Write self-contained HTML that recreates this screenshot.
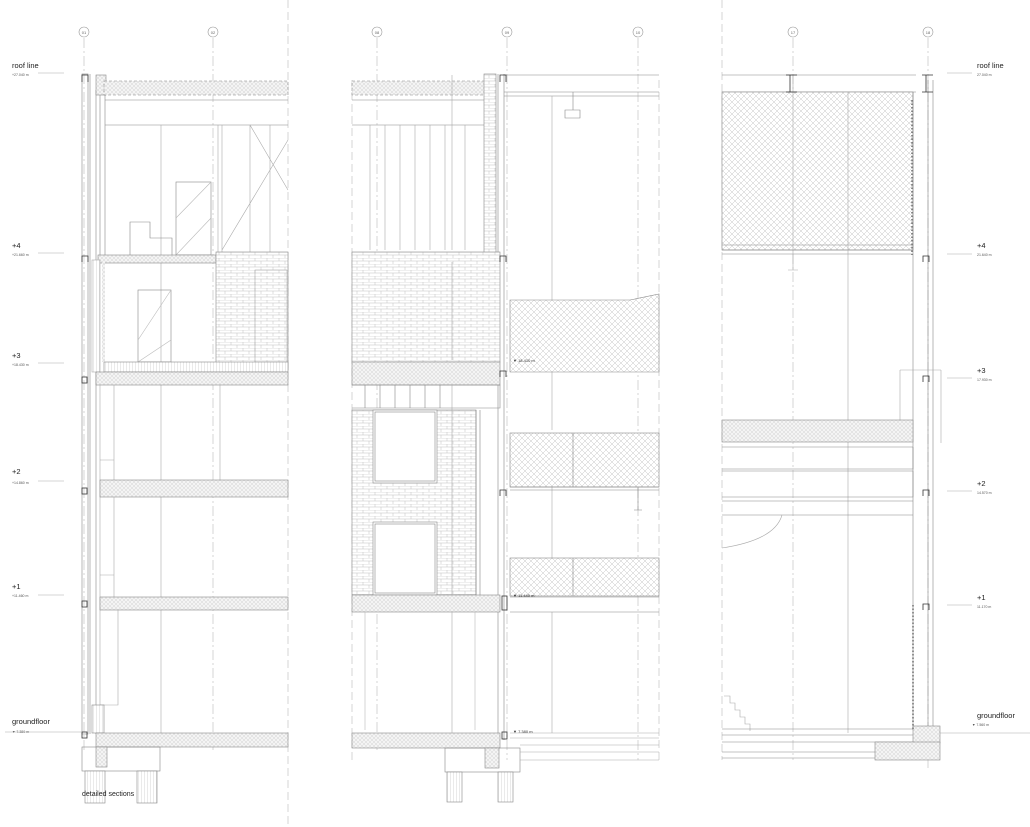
<!DOCTYPE html>
<html><head><meta charset="utf-8"><style>
html,body{margin:0;padding:0;background:#fff;}
svg{display:block;font-family:"Liberation Sans",sans-serif;}
</style></head><body>
<svg width="1030" height="827" viewBox="0 0 1030 827" xmlns="http://www.w3.org/2000/svg">
<defs>
<pattern id="brick" width="12" height="6" patternUnits="userSpaceOnUse">
<rect width="12" height="6" fill="#fff"/>
<path d="M0 0H12M0 3H12M3 0V3M9 3V6" stroke="#c0c0c0" stroke-width="0.5"/>
</pattern>
<pattern id="diam" width="6" height="6" patternUnits="userSpaceOnUse">
<rect width="6" height="6" fill="#fff"/>
<path d="M0 0L6 6M6 0L0 6" stroke="#c4c4c4" stroke-width="0.5"/>
</pattern>
<pattern id="slab" width="4" height="4" patternUnits="userSpaceOnUse">
<rect width="4" height="4" fill="#f4f4f4"/>
<path d="M0 0L4 4M4 0L0 4" stroke="#cdcdcd" stroke-width="0.4"/>
</pattern>
<pattern id="vlines" width="3" height="4" patternUnits="userSpaceOnUse">
<rect width="3" height="4" fill="#fff"/><path d="M0 0V4" stroke="#aaa" stroke-width="0.5"/>
</pattern>
</defs>
<g fill="none" stroke="#999" stroke-width="0.6">
<g stroke-dasharray="8 4" stroke="#bbb">
<path d="M288 0V827M352 80V760M659 80V760M722 0V760"/>
<path d="M84 38V750M213 38V750M377 38V750M507 38V760M638 38V760M793 38V760M928 38V770" stroke-dasharray="10 3 2 3"/>
</g>
</g>
<g fill="#fff" stroke="#999" stroke-width="0.6">
<circle cx="84" cy="32" r="5"/><circle cx="213" cy="32" r="5"/><circle cx="377" cy="32" r="5"/><circle cx="507" cy="32" r="5"/><circle cx="638" cy="32" r="5"/><circle cx="793" cy="32" r="5"/><circle cx="928" cy="32" r="5"/>
</g>
<g font-size="4" fill="#666" text-anchor="middle">
<text x="84" y="34">01</text><text x="213" y="34">02</text><text x="377" y="34">08</text><text x="507" y="34">09</text><text x="638" y="34">10</text><text x="793" y="34">17</text><text x="928" y="34">18</text>
</g>

<!-- PANEL 1 -->
<g stroke="#888" stroke-width="0.6" fill="none">
<rect x="82" y="74" width="6" height="660"/>
<path d="M90 74V734M96 90V734M100 90V260"/>
<rect x="96" y="75" width="10" height="20" fill="url(#slab)"/>
<rect x="104" y="81" width="184" height="14" fill="url(#slab)" stroke-dasharray="3 2"/>
<path d="M105 100H288M105 125H288M105 95V255"/>
<path d="M161 125V255M161 262V370M161 385V485M161 497V597M161 610V733" stroke="#aaa"/>
<rect x="176" y="182" width="35" height="73"/><path d="M176 218L211 182M176 255L211 218" stroke="#bbb"/>
<path d="M130 255V222H150V238H172V255"/>
<path d="M218 125V255M222 125V255M250 125V255M270 125V255M222 250L288 140M250 125L288 190" stroke="#aaa"/>
<rect x="98" y="255" width="118" height="8" fill="url(#slab)"/>
<rect x="216" y="252" width="72" height="118" fill="url(#brick)"/>
<rect x="255" y="270" width="32" height="92" fill="url(#brick)" stroke="#aaa"/>
<rect x="92" y="260" width="8" height="112" fill="url(#vlines)" stroke="#aaa"/>
<rect x="102" y="262" width="3" height="100" fill="url(#slab)" stroke="none"/>
<rect x="138" y="290" width="33" height="72"/><path d="M138 340L171 290M138 362L171 340" stroke="#bbb"/>
<rect x="104" y="362" width="184" height="10" fill="url(#vlines)"/>
<rect x="96" y="372" width="192" height="13" fill="url(#slab)"/>
<path d="M100 385V733M114 385V485M220 385V485M100 460H114V485" stroke="#aaa"/>
<rect x="100" y="480" width="188" height="17" fill="url(#slab)"/>
<path d="M114 497V597M100 575H114V597" stroke="#aaa"/>
<rect x="100" y="597" width="188" height="13" fill="url(#slab)"/>
<path d="M118 610V705H100M100 705H118" stroke="#aaa"/>
<rect x="92" y="705" width="12" height="28" fill="url(#vlines)"/>
<rect x="96" y="733" width="192" height="14" fill="url(#slab)"/>
<rect x="82" y="747" width="78" height="24"/>
<rect x="96" y="747" width="11" height="20" fill="url(#slab)"/>
<rect x="85" y="771" width="20" height="32" fill="url(#vlines)"/>
<rect x="137" y="771" width="20" height="32" fill="url(#vlines)"/>
</g>
<g stroke="#333" stroke-width="0.8" fill="none">
<path d="M82 82V75H88V82M82 262V256H88V262"/>
<rect x="82" y="377" width="5" height="6"/><rect x="82" y="488" width="5" height="6"/><rect x="82" y="601" width="5" height="6"/><rect x="82" y="732" width="5" height="6"/>
</g>
<g fill="#222">
<text x="12" y="68" font-size="7.5">roof line</text><text x="12" y="76" font-size="3.5" fill="#555">+27.040 m</text>
<text x="12" y="248" font-size="7.5">+4</text><text x="12" y="256" font-size="3.5" fill="#555">+21.660 m</text>
<text x="12" y="358" font-size="7.5">+3</text><text x="12" y="366" font-size="3.5" fill="#555">+18.430 m</text>
<text x="12" y="474" font-size="7.5">+2</text><text x="12" y="484" font-size="3.5" fill="#555">+14.860 m</text>
<text x="12" y="589" font-size="7.5">+1</text><text x="12" y="597" font-size="3.5" fill="#555">+11.460 m</text>
<text x="12" y="724" font-size="7.5">groundfloor</text><text x="12" y="733" font-size="3.5" fill="#555">▼ 7.380 m</text>
<text x="82" y="796" font-size="7">detailed sections</text>
</g>
<g stroke="#aaa" stroke-width="0.5"><path d="M38 73H64M38 253H64M38 363H64M38 481H64M38 595H64M5 732H82"/></g>

<!-- PANEL 2 -->
<g stroke="#888" stroke-width="0.6" fill="none">
<rect x="352" y="81" width="136" height="14" fill="url(#slab)" stroke-dasharray="3 2"/>
<path d="M352 100H488M352 125H488"/>
<path d="M370 125V250M385 125V250M400 125V250M415 125V250M430 125V250M445 125V250M465 125V250" stroke="#aaa"/>
<rect x="484" y="74" width="12" height="180" fill="url(#brick)"/>
<path d="M498 74V740M504 74V740"/>
<rect x="352" y="252" width="148" height="110" fill="url(#brick)"/>
<rect x="352" y="362" width="148" height="23" fill="url(#slab)"/>
<path d="M352 385H500V408H352M365 385V408M380 385V408M395 385V408M410 385V408M425 385V408M440 385V408"/>
<rect x="352" y="410" width="124" height="185" fill="url(#brick)"/>
<rect x="373" y="410" width="64" height="73" fill="#fff"/><rect x="375" y="412" width="60" height="69"/>
<rect x="373" y="522" width="64" height="73" fill="#fff"/><rect x="375" y="524" width="60" height="69"/>
<path d="M476 410V595M480 410V595"/>
<rect x="352" y="595" width="148" height="17" fill="url(#slab)"/>
<path d="M365 612V730M475 612V730" stroke="#bbb"/>
<rect x="352" y="733" width="148" height="15" fill="url(#slab)"/>
<rect x="445" y="748" width="75" height="24"/>
<rect x="485" y="748" width="14" height="20" fill="url(#slab)"/>
<rect x="447" y="772" width="15" height="30" fill="url(#vlines)"/>
<rect x="498" y="772" width="15" height="30" fill="url(#vlines)"/>
<path d="M504 75H659M504 92H659M504 96H659"/>
<path d="M573 92V110M565 110H580V118H565Z"/>
<path d="M452 75V125M452 125V250M452 262V360M452 385V595M452 612V733" stroke="#aaa"/>
<path d="M552 96V360M552 370V430M552 487V558M552 612V733" stroke="#aaa"/>
<path d="M510 300H630L659 294V372H510Z" fill="url(#diam)"/>
<rect x="510" y="433" width="149" height="54" fill="url(#diam)"/>
<path d="M510 487H659M510 490H659M573 433V487"/>
<rect x="510" y="558" width="149" height="38" fill="url(#diam)"/>
<path d="M510 597H659M510 612H659M573 558V596M638 487V510M634 510H642"/>
<path d="M510 733H659M510 738H659M520 745H659M520 752H659M520 760H659" stroke="#aaa"/>
</g>
<g stroke="#333" stroke-width="0.8" fill="none">
<path d="M500 82V75H506V82M500 262V256H506V262M500 377V371H506V377M500 496V490H506V496"/>
<rect x="502" y="596" width="5" height="14"/><rect x="502" y="732" width="5" height="7"/>
</g>
<g font-size="4" fill="#333">
<text x="513" y="362">▼ 18.410 m</text><text x="513" y="597">▼ 11.440 m</text><text x="513" y="733">▼ 7.380 m</text>
</g>

<!-- PANEL 3 -->
<g stroke="#888" stroke-width="0.6" fill="none">
<path d="M722 75H916M722 92H916"/>
<rect x="722" y="92" width="191" height="158" fill="url(#diam)"/>
<path d="M722 245H913M722 250H913M722 254H913"/>
<path d="M913 92V730M928 80V730M933 80V730"/>
<path d="M793 75V270M788 270H798M848 92V733" stroke="#aaa"/>
<path d="M900 370V420M900 370H941M941 370V443" stroke="#aaa"/>
<rect x="722" y="420" width="191" height="22" fill="url(#slab)"/>
<path d="M722 447H913M722 469H913V447M722 471H913M722 497H913V471M722 501H913M722 515H913"/>
<path d="M722 548Q775 540 782 515" stroke="#aaa"/>
<path d="M724 696H730V703H735V710H740V717H745V724H750V731" stroke="#aaa"/>
<path d="M722 729H913M722 735H913M722 742H913M722 752H875M722 758H875"/>
<rect x="913" y="726" width="27" height="17" fill="url(#slab)"/>
<rect x="875" y="742" width="65" height="18" fill="url(#slab)"/>
<path d="M940 733H1030" stroke="#aaa"/>
<path d="M912 100V255M913 605V730" stroke="#777" stroke-dasharray="1.5 2" stroke-width="1.6"/>
</g>
<g stroke="#333" stroke-width="0.8" fill="none">
<path d="M790 75V92M786 75H797M786 92H797M926 75V92M922 75H933M922 92H933"/>
<path d="M923 262V256H929V262M923 382V376H929V382M923 496V490H929V496M923 610V604H929V610"/>
</g>
<g fill="#222">
<text x="977" y="68" font-size="7.5">roof line</text><text x="977" y="76" font-size="3.5" fill="#555">27.040 m</text>
<text x="977" y="248" font-size="7.5">+4</text><text x="977" y="256" font-size="3.5" fill="#555">21.640 m</text>
<text x="977" y="373" font-size="7.5">+3</text><text x="977" y="381" font-size="3.5" fill="#555">17.930 m</text>
<text x="977" y="486" font-size="7.5">+2</text><text x="977" y="494" font-size="3.5" fill="#555">14.570 m</text>
<text x="977" y="600" font-size="7.5">+1</text><text x="977" y="608" font-size="3.5" fill="#555">11.170 m</text>
<text x="977" y="718" font-size="7.5">groundfloor</text><text x="972" y="726" font-size="3.5" fill="#555">▼ 7.560 m</text>
</g>
<g stroke="#aaa" stroke-width="0.5"><path d="M947 73H972M947 254H972M947 378H972M947 491H972M947 605H972"/></g>
</svg>
</body></html>
